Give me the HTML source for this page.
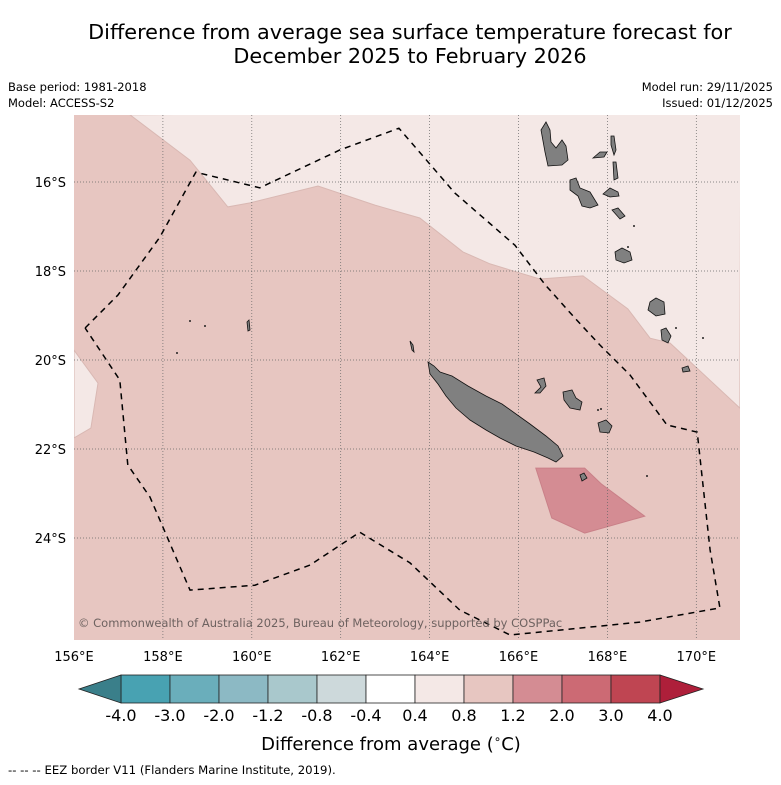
<!DOCTYPE html>
<html><head><meta charset="utf-8"><style>
html,body{margin:0;padding:0;background:#fff;}
body{width:781px;height:781px;overflow:hidden;font-family:"DejaVu Sans","Liberation Sans",sans-serif;}
</style></head><body>
<svg id="chart" width="781" height="781" viewBox="0 0 781 781" xmlns="http://www.w3.org/2000/svg" font-family="DejaVu Sans, Liberation Sans, sans-serif">
<text x="410" y="39" font-size="20.8" text-anchor="middle">Difference from average sea surface temperature forecast for</text>
<text x="410" y="63" font-size="20.8" text-anchor="middle">December 2025 to February 2026</text>
<text x="8" y="91" font-size="11.5">Base period: 1981-2018</text>
<text x="8" y="107" font-size="11.5">Model: ACCESS-S2</text>
<text x="773" y="91" font-size="11.5" text-anchor="end">Model run: 29/11/2025</text>
<text x="773" y="107" font-size="11.5" text-anchor="end">Issued: 01/12/2025</text>
<defs><clipPath id="mapclip"><rect x="74" y="115" width="666" height="525"/></clipPath></defs>
<g id="map" clip-path="url(#mapclip)"></g>
<g id="axes"></g>
<g id="cbar"></g>
<text x="391" y="750" font-size="18" text-anchor="middle">Difference from average (<tspan font-size="12" dy="-7">∘</tspan><tspan dy="7">C)</tspan></text>
<text x="8" y="774" font-size="11.7">--  --  -- EEZ border V11 (Flanders Marine Institute, 2019).</text>
</svg>
<script>
const lonTicks=[156,158,160,162,164,166,168,170];
const latTicks=[-16,-18,-20,-22,-24];
const cbarBounds=[-4.0,-3.0,-2.0,-1.2,-0.8,-0.4,0.4,0.8,1.2,2.0,3.0,4.0];
const cbarColors=["#48a2b2","#6aaebb","#8cb9c4","#a9c8cc","#cdd9db","#ffffff","#f4e8e6","#e7c6c1","#d48c93","#cc6a74","#bf4552"];
const contourLon=[157.26,158.61,159.46,159.96,161.49,162.77,163.78,164.75,165.36,166.48,167.45,168.46,168.96,169.41,170.98];
const contourLat=[-14.49,-15.51,-16.56,-16.47,-16.09,-16.52,-16.81,-17.57,-17.84,-18.18,-18.11,-18.85,-19.51,-19.62,-21.08];
const westLon=[156,156.54,156.38,156];
const westLat=[-19.78,-20.52,-21.53,-21.75];
const warmLon=[166.39,167.49,167.87,168.84,167.49,166.75];
const warmLat=[-22.43,-22.43,-22.79,-23.51,-23.89,-23.55];
const eezLon=[156.25,156.99,157.93,158.74,160.18,161.98,163.31,164.57,165.92,166.60,167.27,167.83,168.51,169.34,170.02,170.31,170.53,168.73,166.93,165.81,164.68,163.56,162.43,161.31,160.07,158.61,157.71,157.21,157.03,156.25];
const eezLat=[-19.28,-18.54,-17.24,-15.78,-16.13,-15.28,-14.79,-16.25,-17.42,-18.31,-19.06,-19.66,-20.34,-21.46,-21.62,-24.27,-25.57,-25.89,-26.07,-26.18,-25.62,-24.56,-23.87,-24.61,-25.06,-25.17,-23.08,-22.36,-20.45,-19.28];
const NS="http://www.w3.org/2000/svg";
const X=lon=>74+(lon-156)*44.45;
const Y=lat=>182+(-lat-16)*44.5;
function mk(tag,attrs,parent){const e=document.createElementNS(NS,tag);for(const k in attrs)e.setAttribute(k,attrs[k]);parent.appendChild(e);return e;}
const map=document.getElementById('map');
let r=mk('rect',{x:74,y:115,width:666,height:525,fill:'#e7c6c1'},map);


function pts(lo,la){return lo.map((v,i)=>X(v).toFixed(1)+','+Y(la[i]).toFixed(1)).join(' ');}
let p=mk('polygon',{points:pts(contourLon,contourLat)+' '+X(171)+','+Y(-14.4),fill:'#f4e8e6',stroke:'#d9b8b3','stroke-width':1},map);


p=mk('polygon',{points:pts(westLon,westLat),fill:'#f4e8e6',stroke:'#d9b8b3','stroke-width':1},map);


p=mk('polygon',{points:pts(warmLon,warmLat),fill:'#d48c93',stroke:'#c98088','stroke-width':1},map);


lonTicks.forEach(l=>{if(l>156){const g=mk('line',{x1:X(l),x2:X(l),y1:115,y2:640,stroke:'#666','stroke-width':0.7,'stroke-dasharray':'1,2'},map);

}});
latTicks.forEach(l=>{const g=mk('line',{x1:74,x2:740,y1:Y(l),y2:Y(l),stroke:'#666','stroke-width':0.7,'stroke-dasharray':'1,2'},map);

});
const islands=[
['new-caledonia','M428,362 L434,366 L440,372 L452,376 L468,386 L486,396 L502,404 L516,414 L530,424 L546,436 L558,446 L563,456 L556,462 L548,458 L534,452 L516,446 L500,438 L486,430 L470,420 L456,408 L446,396 L438,384 L430,374 Z'],
['espiritu-santo','M541,130 L546,122 L550,130 L551,142 L556,148 L562,140 L566,146 L568,160 L562,165 L548,166 L545,152 Z'],
['malekula','M570,180 L576,178 L580,188 L590,192 L598,205 L590,208 L582,206 L578,196 L570,190 Z'],
['ambae','M593,158 L600,152 L607,152 L604,157 Z'],
['pentecost','M611,136 L614,136 L616,150 L614,155 L611,145 Z M613,162 L616,162 L618,178 L614,180 Z'],
['ambrym','M603,194 L610,188 L618,192 L619,196 L610,197 Z'],
['epi','M612,210 L618,208 L625,216 L620,219 Z'],
['efate','M615,252 L622,248 L630,252 L632,260 L624,263 L616,260 Z'],
['erromango','M650,302 L656,298 L664,302 L665,314 L656,316 L648,310 Z'],
['tanna','M661,330 L666,328 L671,336 L668,343 L662,340 Z'],
['aneityum','M682,368 L688,366 L690,371 L683,372 Z'],
['ouvea','M537,380 L544,378 L546,386 L540,393 L535,393 L541,387 Z'],
['lifou','M563,392 L572,390 L576,398 L582,402 L580,410 L570,408 L564,400 Z'],
['mare','M598,423 L606,420 L612,426 L609,433 L600,432 Z'],
['isle-of-pines','M580,475 L584,473 L587,478 L582,481 Z'],
['chesterfield','M247,322 L249,320 L250,330 L248,331 Z'],
['belep','M410,341 L413,345 L414,352 L412,350 Z']
];
islands.forEach(d=>{const e=mk('path',{d:d[1],fill:'#808080',stroke:'#111','stroke-width':0.8},map);

});
[[190,321],[205,326],[177,353],[647,476],[676,328],[703,338],[598,410],[628,247],[634,226],[601,409]].forEach((c,i)=>{const e=mk('circle',{cx:c[0],cy:c[1],r:1,fill:'#222'},map);

});
const eez=mk('polyline',{points:pts(eezLon,eezLat),fill:'none',stroke:'#000','stroke-width':1.5,'stroke-dasharray':'6,5'},map);


const cp=mk('text',{x:78,y:627,'font-size':11.5,fill:'#6e6260'},map);
cp.textContent='© Commonwealth of Australia 2025, Bureau of Meteorology, supported by COSPPac';


const axes=document.getElementById('axes');
lonTicks.forEach(l=>{const t=mk('text',{x:X(l),y:661,'font-size':13,'text-anchor':'middle'},axes);t.textContent=l+'°E';

});
latTicks.forEach(l=>{const t=mk('text',{x:66,y:Y(l)+5,'font-size':13,'text-anchor':'end'},axes);t.textContent=(-l)+'°S';

});
const cb=document.getElementById('cbar');
const cx0=121,cx1=660,cy=675,ch=28;const n=cbarColors.length;const w=(cx1-cx0)/n;
cbarColors.forEach((c,i)=>{const e=mk('rect',{x:cx0+i*w,y:cy,width:w,height:ch,fill:c,stroke:'#222','stroke-width':0.8},cb);

});
let a=mk('polygon',{points:`${cx0},${cy} 79,${cy+ch/2} ${cx0},${cy+ch}`,fill:'#3a7f8a',stroke:'#222','stroke-width':0.8},cb);


a=mk('polygon',{points:`${cx1},${cy} 703,${cy+ch/2} ${cx1},${cy+ch}`,fill:'#ae1f3a',stroke:'#222','stroke-width':0.8},cb);


cbarBounds.forEach((b,i)=>{const t=mk('text',{x:cx0+i*w,y:721,'font-size':16,'text-anchor':'middle'},cb);t.textContent=b.toFixed(1);

});
</script>
</body></html>
